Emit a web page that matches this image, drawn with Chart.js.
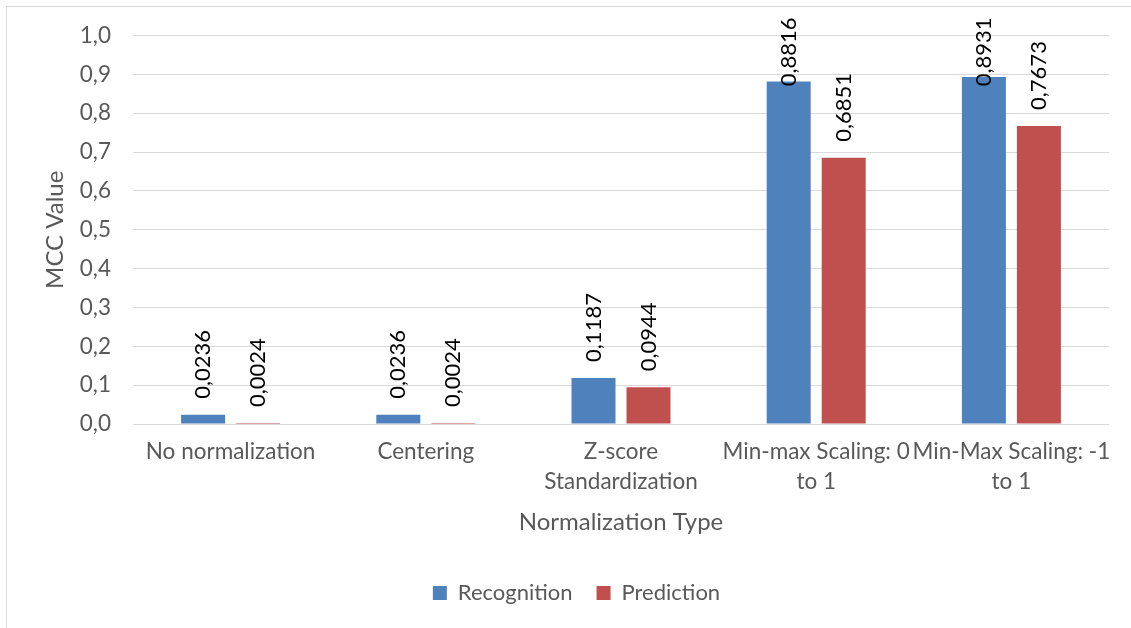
<!DOCTYPE html>
<html>
<head>
<meta charset="utf-8">
<script src="https://cdn.jsdelivr.net/npm/chart.js@4/dist/chart.umd.min.js"></script>
<style>
  html, body { margin: 0; padding: 0; background: #ffffff; }
  #frame {
    position: absolute; left: 0; top: 0; width: 1131px; height: 628px;
    overflow: hidden; background: #ffffff;
  }
  #edge {
    position: absolute; left: 6px; top: 6px; width: 1200px; height: 700px;
    border-left: 1px solid #d9d9d9; border-top: 1px solid #d9d9d9;
  }
  #wrap { position: absolute; left: 0; top: 0; width: 1131px; height: 628px; }
</style>
</head>
<body>
<div id="frame">
  <div id="edge"></div>
  <div id="wrap"><canvas id="chart" width="1131" height="628"></canvas></div>
</div>
<script>
// Normalization methods compared on the x axis
const categories = [
  "No normalization",
  "Centering",
  ["Z-score", "Standardization"],
  ["Min-max Scaling: 0", "to 1"],
  ["Min-Max Scaling: -1", "to 1"]
];
const seriesNames = ["Recognition", "Prediction"];
const recognitionMCC = [0.0236, 0.0236, 0.1187, 0.8816, 0.8931];
const predictionMCC  = [0.0024, 0.0024, 0.0944, 0.6851, 0.7673];
const yTicks = [0, 0.1, 0.2, 0.3, 0.4, 0.5, 0.6, 0.7, 0.8, 0.9, 1.0];

const FONT = "Lato, 'Open Sans', sans-serif";
const GREY = "#595959";

// Decimal comma formatting
const fmt = (v, d) => v.toFixed(d).replace(".", ",");

// Rotated value labels above each bar
const barValueLabels = {
  id: "barValueLabels",
  afterDatasetsDraw(chart) {
    const ctx = chart.ctx;
    const top = chart.chartArea.top - 18;
    ctx.save();
    ctx.font = "22px " + FONT;
    ctx.fillStyle = "#000000";
    chart.data.datasets.forEach((ds, i) => {
      const meta = chart.getDatasetMeta(i);
      meta.data.forEach((bar, j) => {
        const text = fmt(ds.data[j], 4);
        const w = ctx.measureText(text).width;
        const base = Math.max(bar.y - 16, top + w);
        ctx.save();
        ctx.translate(bar.x, base);
        ctx.rotate(-Math.PI / 2);
        ctx.textAlign = "left";
        ctx.textBaseline = "middle";
        ctx.fillText(text, 0, 0);
        ctx.restore();
      });
    });
    ctx.restore();
  }
};

// Nudge the legend block a little to the right of the canvas centre
const legendShift = {
  id: "legendShift",
  beforeDraw(chart) {
    const lg = chart.legend;
    if (lg && !lg._shifted) {
      lg.left += 22;
      lg.right += 22;
      lg._shifted = true;
    }
  }
};

new Chart(document.getElementById("chart"), {
  type: "bar",
  data: {
    labels: categories,
    datasets: [
      { label: seriesNames[0], data: recognitionMCC, backgroundColor: "#4F81BD" },
      { label: seriesNames[1], data: predictionMCC, backgroundColor: "#C0504D" }
    ]
  },
  options: {
    responsive: false,
    animation: false,
    devicePixelRatio: 1,
    layout: { padding: { left: 0, top: 35, right: 22, bottom: 14 } },
    datasets: { bar: { categoryPercentage: 0.5635, barPercentage: 0.8 } },
    scales: {
      x: {
        grid: { display: false, drawTicks: false },
        border: { display: false },
        ticks: {
          color: GREY, font: { family: FONT, size: 22.5, lineHeight: 1.33 },
          padding: 13, maxRotation: 0, autoSkip: false
        },
        title: {
          display: true, text: "Normalization Type", color: GREY,
          font: { family: FONT, size: 24 }, padding: { top: 4, bottom: 21 }
        },
        afterFit(scale) { scale.height = 134; }
      },
      y: {
        min: 0, max: 1,
        afterBuildTicks(scale) { scale.ticks = yTicks.map(v => ({ value: v })); },
        grid: { color: "#d9d9d9", lineWidth: 1, drawTicks: false },
        border: { display: false },
        ticks: {
          color: GREY, font: { family: FONT, size: 22.5 }, padding: 22,
          callback: v => fmt(v, 1)
        },
        title: {
          display: true, text: "MCC Value", color: GREY,
          font: { family: FONT, size: 24 }, padding: { top: 41, bottom: 0 }
        },
        afterFit(scale) { scale.width = 133; }
      }
    },
    plugins: {
      legend: {
        position: "bottom",
        labels: {
          color: GREY, font: { family: FONT, size: 22 },
          boxWidth: 14, boxHeight: 14, padding: 24
        }
      },
      tooltip: { enabled: false }
    }
  },
  plugins: [barValueLabels, legendShift]
});
</script>
</body>
</html>
